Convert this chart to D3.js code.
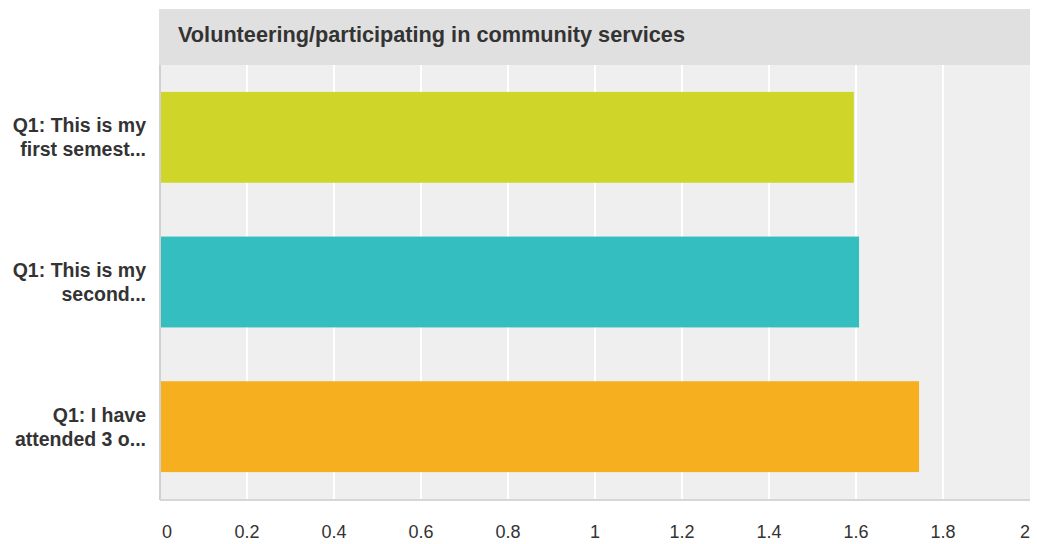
<!DOCTYPE html>
<html>
<head>
<meta charset="utf-8">
<script src="https://cdn.jsdelivr.net/npm/d3@7"></script>
<style>
  html, body { margin: 0; padding: 0; background: #fff; }
  svg { display: block; }
</style>
</head>
<body>
<svg id="chart" width="1037" height="544"></svg>
<script>
const title = "Volunteering/participating in community services";
const categories = ["Q1: This is my first semest...", "Q1: This is my second...", "Q1: I have attended 3 o..."];
const categoryLines = [["Q1: This is my", "first semest..."], ["Q1: This is my", "second..."], ["Q1: I have", "attended 3 o..."]];
const values = [1.595, 1.607, 1.745];
const colors = ["#d0d52a", "#34bec0", "#f6b01f"];
const tickValues = [0, 0.2, 0.4, 0.6, 0.8, 1, 1.2, 1.4, 1.6, 1.8, 2];
const tickLabels = ["0", "0.2", "0.4", "0.6", "0.8", "1", "1.2", "1.4", "1.6", "1.8", "2"];

(function () {
const svg = d3.select("#chart");
const pL = 160, pR = 1030, pT = 65, pB = 499;
const fontFam = "'Liberation Sans', Arial, Helvetica, sans-serif";

const x = d3.scaleLinear().domain([0, 2]).range([pL, pR]);
const y = d3.scaleBand().domain(categories).range([pT, pB]).paddingInner(0.372).paddingOuter(0.186);

// title band
svg.append("rect").attr("x", 159).attr("y", 9).attr("width", pR - 159).attr("height", pT - 9).attr("fill", "#e0e0e0");
svg.append("text").attr("x", 178).attr("y", 41.5).attr("font-family", fontFam).attr("font-weight", "bold")
  .attr("font-size", "21.7px").attr("fill", "#333").text(title);

// plot background
svg.append("rect").attr("x", pL).attr("y", pT).attr("width", pR - pL).attr("height", pB - pT).attr("fill", "#efefef");

// gridlines
svg.append("g").selectAll("line").data(tickValues.filter(v => v > 0 && v < 2)).join("line")
  .attr("x1", d => x(d)).attr("x2", d => x(d)).attr("y1", pT).attr("y2", pB)
  .attr("stroke", "#fff").attr("stroke-width", 2);

// bars
svg.append("g").selectAll("rect").data(values).join("rect")
  .attr("x", x(0)).attr("y", (d, i) => y(categories[i]))
  .attr("width", d => x(d) - x(0)).attr("height", y.bandwidth())
  .attr("fill", (d, i) => colors[i]);

// axis lines
svg.append("line").attr("x1", pL).attr("x2", pL).attr("y1", pT).attr("y2", pB + 1).attr("stroke", "#d0d0d0").attr("stroke-width", 2);
svg.append("line").attr("x1", pL).attr("x2", pR).attr("y1", pB + 1).attr("y2", pB + 1).attr("stroke", "#d6d6d6").attr("stroke-width", 2);

// x tick labels
svg.append("g").selectAll("text").data(tickValues).join("text")
  .attr("x", (d, i) => i === 0 ? x(d) + 2 : x(d))
  .attr("y", 538)
  .attr("text-anchor", (d, i) => i === 0 ? "start" : (i === tickValues.length - 1 ? "end" : "middle"))
  .attr("font-family", fontFam).attr("font-size", "18px").attr("fill", "#333")
  .text((d, i) => tickLabels[i]);

// y labels
const yl = svg.append("g");
categories.forEach((c, i) => {
  const cy = y(c) + y.bandwidth() / 2;
  const t = yl.append("text").attr("text-anchor", "end").attr("font-family", fontFam)
    .attr("font-weight", "bold").attr("font-size", "19.5px").attr("fill", "#333");
  categoryLines[i].forEach((ln, j) => {
    t.append("tspan").attr("x", 146).attr("y", cy - 5 + j * 24).text(ln);
  });
});
})();
</script>
</body>
</html>
